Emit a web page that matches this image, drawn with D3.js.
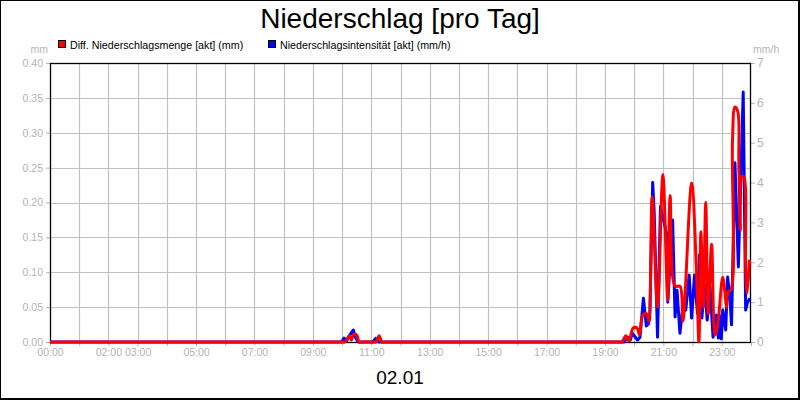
<!DOCTYPE html>
<html><head><meta charset="utf-8">
<script src="https://cdn.jsdelivr.net/npm/d3@7"></script>
<style>body{margin:0;background:#fff}svg{display:block;font-family:"Liberation Sans",Arial,sans-serif}</style>
</head><body><svg id="c" width="800" height="400"></svg>
<script>
const title = "Niederschlag [pro Tag]";
const dateLabel = "02.01";
const seriesNames = ["Diff. Niederschlagsmenge [akt] (mm)", "Niederschlagsintensität [akt] (mm/h)"];
const seriesColors = ["#ff0000", "#0000ff"];
const leftUnit = "mm", rightUnit = "mm/h";
const leftTicks = [0, 0.05, 0.10, 0.15, 0.20, 0.25, 0.30, 0.35, 0.40];
const rightTicks = [0, 1, 2, 3, 4, 5, 6, 7];
const xTickLabels = ["00:00","02:00","03:00","05:00","07:00","09:00","11:00","13:00","15:00","17:00","19:00","21:00","23:00"];

const mengeTimes = ["00:00","09:50","10:00","10:06","10:15","10:19","10:24","10:30","10:35","10:41","11:04","11:10","11:16","11:22","11:28",
  "19:20","19:30","19:35","19:43","19:49","19:58","20:06","20:11","20:18","20:26","20:30","20:37","20:48","20:59",
  "21:09","21:14","21:24","21:34","21:40","21:58","22:08","22:13","22:17","22:22","22:27","22:32",
  "22:39","22:46","22:52","23:02","23:10","23:13","23:19","23:22","23:27","23:33","23:35","23:38",
  "23:41","23:45","23:49","23:52","23:57"];
const mengeValues = [0,0,0,0,0.009,0.003,0.011,0.010,0,0,0,0,0.009,0,0,
  0,0,0,0.009,0.001,0.020,0.020,0.010,0.039,0.040,0.030,0.208,0.050,0.240,
  0.060,0.210,0.080,0.080,0.030,0.228,0.100,0.000,0.158,0.050,0.200,0.040,
  0.140,0.010,0.027,0.093,0.050,0.072,0.075,0.290,0.337,0.330,0.257,0.160,
  0.237,0.237,0.107,0.070,0.118];

const intensTimes = ["00:00","09:59","10:04","10:09","10:16","10:23","10:28","10:33","11:03","11:09","11:15",
  "19:39","19:47","19:52","19:56","20:07","20:12","20:19","20:25","20:29","20:32","20:38","20:41","20:48",
  "20:54","21:07","21:09","21:19","21:24","21:28","21:34","21:40","21:46","21:53","21:58","22:04","22:10",
  "22:14","22:19","22:25","22:30","22:36","22:42","22:49","22:53","22:57","22:59","23:02","23:08","23:12",
  "23:17","23:20","23:27","23:34","23:44","23:49","23:53","23:58"];
const intensValues = [0,0,0.10,0.02,0.18,0.30,0.10,0,0,0.09,0,
  0,0.12,0.05,0.22,0.05,0.12,1.10,0.40,0.45,0.60,4.00,3.30,0.12,
  3.40,2.70,1.00,3.06,0.63,1.30,0.22,0.88,0.80,1.68,0.60,1.68,0.72,
  2.18,0.60,1.43,0.55,1.38,0.12,0.68,0.10,0.65,0.08,0.80,0.30,1.63,
  1.05,0.43,4.50,1.88,6.27,0.80,1.00,1.10];

const W = 800, H = 400;
const L = 50, R = 751, T = 63, B = 342;
const grey = "#b4b4b4", gridC = "#c0c0c0";
const svg = d3.select("#c");
const parse = d3.timeParse("%H:%M");
const t0 = parse("00:00"), t1 = d3.timeDay.offset(t0, 1);
const x = d3.scaleTime().domain([t0, t1]).range([L, R]);
const yL = d3.scaleLinear().domain([0, 0.4]).range([B, T]);
const yR = d3.scaleLinear().domain([0, 7]).range([B, T]);

svg.append("rect").attr("width", W).attr("height", H).attr("fill", "#fff");

// grid
const hours = d3.timeHour.every(1).range(t0, d3.timeMinute.offset(t1, 1));
svg.append("g").selectAll("line").data(hours.slice(1, -1)).join("line")
  .attr("x1", d => Math.round(x(d)) + 0.5).attr("x2", d => Math.round(x(d)) + 0.5)
  .attr("y1", T).attr("y2", B).attr("stroke", gridC).attr("stroke-width", 1.2);
svg.append("g").selectAll("line").data(leftTicks.slice(1, -1)).join("line")
  .attr("x1", L).attr("x2", R)
  .attr("y1", d => Math.round(yL(d)) + 0.5).attr("y2", d => Math.round(yL(d)) + 0.5)
  .attr("stroke", gridC).attr("stroke-width", 1.2);

// axes
const fmtH = d3.timeFormat("%H:%M");
const xAxis = d3.axisBottom(x).tickValues(hours).tickSize(4).tickPadding(3)
  .tickFormat(d => xTickLabels.includes(fmtH(d)) && d < t1 ? fmtH(d) : "");
const gx = svg.append("g").attr("transform", `translate(0,${B})`).call(xAxis);
const gl = svg.append("g").attr("transform", `translate(${L},0)`)
  .call(d3.axisLeft(yL).tickValues(leftTicks).tickFormat(d3.format(".2f")).tickSize(4).tickPadding(3));
const gr = svg.append("g").attr("transform", `translate(${R},0)`)
  .call(d3.axisRight(yR).tickValues(rightTicks).tickFormat(d3.format("d")).tickSize(4).tickPadding(2));
[gx, gl, gr].forEach(g => {
  g.select(".domain").remove();
  g.selectAll(".tick line").attr("stroke", grey);
  g.selectAll(".tick text").attr("fill", grey).attr("font-size", 10.5)
    .attr("font-family", '"Liberation Sans",Arial,sans-serif');
});
gr.selectAll(".tick text").attr("font-size", 12);

// frame of plot
svg.append("rect").attr("x", L + 0.5).attr("y", T + 0.5).attr("width", R - L - 1).attr("height", B - T)
  .attr("fill", "none").attr("stroke", "#000").attr("stroke-width", 1.3);

// data
const defs = svg.append("defs");
defs.append("clipPath").attr("id", "clip").append("rect")
  .attr("x", L).attr("y", T).attr("width", R - L).attr("height", B - T + 3);
const mengeData = mengeTimes.map((t, i) => ({t: parse(t), v: mengeValues[i]}));
const intensData = intensTimes.map((t, i) => ({t: parse(t), v: intensValues[i]}));
const gData = svg.append("g").attr("clip-path", "url(#clip)");
gData.append("path").datum(intensData)
  .attr("d", d3.line().x(d => x(d.t)).y(d => yR(d.v)))
  .attr("fill", "none").attr("stroke", seriesColors[1]).attr("stroke-width", 3).attr("stroke-linejoin", "round");
gData.append("path").datum(mengeData)
  .attr("d", d3.line().x(d => x(d.t)).y(d => Math.min(yL(d.v), B)).curve(d3.curveCatmullRom.alpha(0.5)))
  .attr("fill", "none").attr("stroke", seriesColors[0]).attr("stroke-width", 3).attr("stroke-linejoin", "round");

// unit labels
svg.append("text").attr("x", 48).attr("y", 53).attr("text-anchor", "end")
  .attr("font-size", 10.5).attr("fill", grey).text(leftUnit);
svg.append("text").attr("x", 753).attr("y", 53).attr("font-size", 10.5).attr("fill", grey).text(rightUnit);

// title
svg.append("text").attr("x", 400).attr("y", 28).attr("text-anchor", "middle")
  .attr("font-size", 28).attr("fill", "#000").text(title);
svg.append("text").attr("x", 400).attr("y", 384).attr("text-anchor", "middle")
  .attr("font-size", 19).attr("fill", "#000").text(dateLabel);

// legend
const legX = [58, 268];
seriesNames.forEach((n, i) => {
  svg.append("rect").attr("x", legX[i] + 0.5).attr("y", 40.5).attr("width", 7).attr("height", 7)
    .attr("fill", seriesColors[i]).attr("stroke", "#000").attr("stroke-width", 1);
  svg.append("text").attr("x", legX[i] + 12).attr("y", 48.5).attr("font-size", 10.7)
    .attr("fill", "#000").text(n);
});

// outer border
svg.append("rect").attr("x", 0.5).attr("y", 0.5).attr("width", 798).attr("height", 398)
  .attr("fill", "none").attr("stroke", "#000").attr("stroke-width", 1);
svg.append("path").attr("d", "M799,0V399H0").attr("fill", "none").attr("stroke", "#000").attr("stroke-width", 2);
</script></body></html>
